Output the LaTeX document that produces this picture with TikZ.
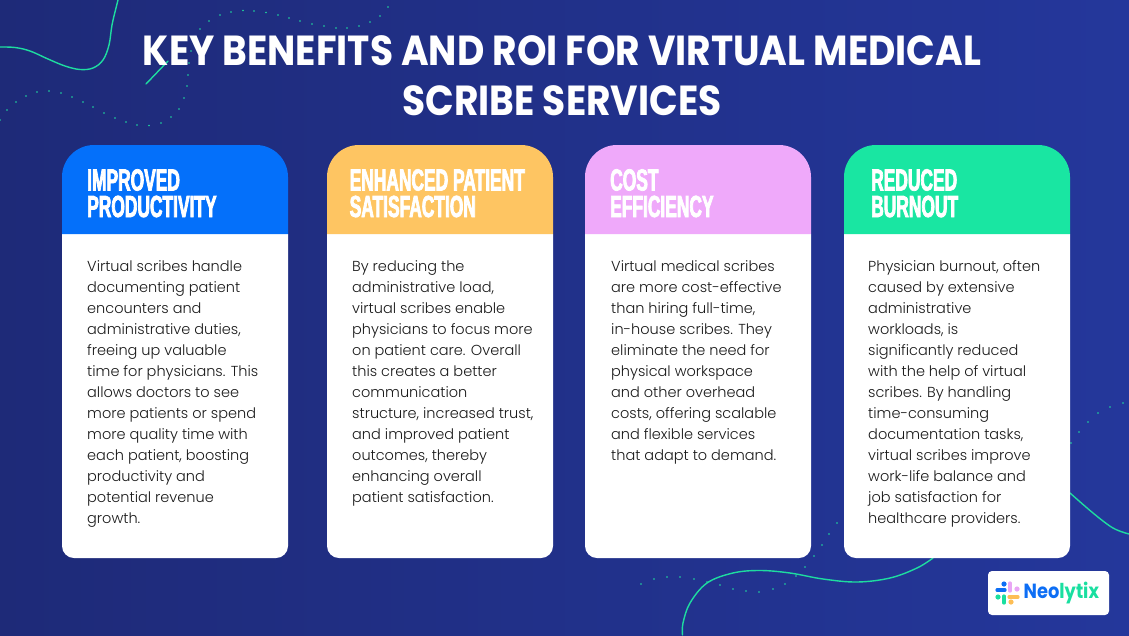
\documentclass[tikz,border=0pt]{standalone}
\usepackage{fontspec}
\setmainfont{Poppins}
\newfontfamily\titlefont{Poppins}[UprightFont=*-Bold,FakeStretch=0.895]
\newfontfamily\bodyfont{Poppins}[UprightFont=*-Light]
\newfontfamily\headfont{Liberation Sans}[UprightFont=* Bold,FakeStretch=0.57,FakeBold=2.4]
\newfontfamily\logofont{Poppins}[UprightFont=*-Bold,FakeStretch=0.87]
\definecolor{bgl}{HTML}{1E2A78}
\definecolor{bgr}{HTML}{24379B}
\definecolor{teal}{HTML}{1EDCA0}
\definecolor{hblue}{HTML}{0470FA}
\definecolor{horange}{HTML}{FEC562}
\definecolor{hpink}{HTML}{EFA9FA}
\definecolor{hgreen}{HTML}{19E6A2}
\definecolor{ink}{HTML}{1A1A1A}
\definecolor{lblue}{HTML}{0D6EF5}
\definecolor{lgreen}{HTML}{19DFA0}
\definecolor{lpink}{HTML}{E9A6F5}
\definecolor{lorange}{HTML}{FDBE55}
\tikzset{
  wave/.style={draw=teal,line width=1.4pt,line cap=round},
  dotmark/.style={fill=teal,draw=none},
  bodytext/.style={anchor=north west,inner sep=0pt,align=left,text=ink,font=\bodyfont\fontsize{14.5}{21}\selectfont},
  headtext/.style={anchor=north west,inner sep=0pt,align=left,text=white,font=\headfont\fontsize{30.5}{26.5}\selectfont},
  titletext/.style={anchor=center,inner sep=0pt,align=center,text=white,font=\titlefont\fontsize{42}{50}\selectfont},
  lbar/.style={line width=3.2pt,line cap=round},
}
\newcommand{\cardbox}[2]{%
  \fill[white] (#1,234) [rounded corners=12pt] -- (#1,558) -- (#1+226,558) [sharp corners] -- (#1+226,234) -- cycle;
  \fill[#2] (#1,234) [rounded corners=32pt] -- (#1,145) -- (#1+226,145) [sharp corners] -- (#1+226,234) -- cycle;
}
\begin{document}
\begin{tikzpicture}[x=1pt,y=-1pt]
\useasboundingbox (0,0) rectangle (1129,635);
\shade[left color=bgl,right color=bgr] (0,0) rectangle (1129,635);
% top-left curve
\draw[wave] plot[smooth,tension=0.6] coordinates {(0,47) (15,47.5) (30,51) (48,59) (65,66) (80,69.5) (93,68) (103,60) (109,45) (112,25) (116,8) (118,0)};
\draw[wave] (146,84) -- (168,61);
% bottom-right curve
\draw[wave] plot[smooth,tension=0.6] coordinates {(682.5,635) (683,623) (690,603) (707,583) (733,573) (760,570.5) (790,573) (823,579) (857,582) (890,578) (917,568) (933,558)};
\draw[wave] plot[smooth,tension=0.6] coordinates {(1070,493) (1093,513) (1113,528) (1129,534)};
% dotted paths
\foreach \p in {(0,120),(7,110),(16,102),(26,96),(37,92),(49,91),(61,93),(72,97),(83,102),(93,107),(104,113),(115,118),(126,122),(137,125),(149,125.5),(161,123),(171,117),(179,109),(184,98),(187,86),(188,75),(189,63),(191,51),(200,29),(209,21),(220,15),(231,12),(243,10.5),(254,11),(266,12.5),(278,15),(289,18),(300,21),(312,24),(324,26),(336,28),(347,28),(359,26),(370,22),(380,16),(388,7),
(641,584),(654,579),(667,577),(680,577),(694,579),(707,582),(720,585),(733,589),(746,591),(759,592),(773,589),(785,584),(796,576),(805,567),(814,556),(822,545),(829,534),(837,523),
(1071,443),(1079,432),(1088,422),(1098,413),(1110,407),(1123,403)}
  \fill[dotmark] \p circle[radius=0.8];
% cards
\cardbox{62}{hblue}
\cardbox{327}{horange}
\cardbox{585}{hpink}
\cardbox{844}{hgreen}
% title
\node[titletext] (title) at (562,76) {KEY BENEFITS AND ROI FOR VIRTUAL MEDICAL\\SCRIBE SERVICES};
% heads
\node[headtext] (h1) at (87,169) {IMPROVED\\PRODUCTIVITY};
\node[headtext] (h2) at (349.5,169) {ENHANCED PATIENT\\SATISFACTION};
\node[headtext] (h3) at (610,169) {COST\\EFFICIENCY};
\node[headtext] (h4) at (871,169) {REDUCED\\BURNOUT};
% bodies
\node[bodytext] (b1) at (87,260) {Virtual scribes handle\\documenting patient\\encounters and\\administrative duties,\\freeing up valuable\\time for physicians. This\\allows doctors to see\\more patients or spend\\more quality time with\\each patient, boosting\\productivity and\\potential revenue\\growth.};
\node[bodytext] (b2) at (352,260) {By reducing the\\administrative load,\\virtual scribes enable\\physicians to focus more\\on patient care. Overall\\this creates a better\\communication\\structure, increased trust,\\and improved patient\\outcomes, thereby\\enhancing overall\\patient satisfaction.};
\node[bodytext] (b3) at (611,260) {Virtual medical scribes\\are more cost-effective\\than hiring full-time,\\in-house scribes. They\\eliminate the need for\\physical workspace\\and other overhead\\costs, offering scalable\\and flexible services\\that adapt to demand.};
\node[bodytext] (b4) at (868,260) {Physician burnout, often\\caused by extensive\\administrative\\workloads, is\\significantly reduced\\with the help of virtual\\scribes. By handling\\time-consuming\\documentation tasks,\\virtual scribes improve\\work-life balance and\\job satisfaction for\\healthcare providers.};
% logo
\fill[white,rounded corners=4pt] (988,571) rectangle (1109,615);
\draw[lbar,lblue] (997,590) -- (1005,590);
\fill[lblue] (1004,584) circle[radius=2.6];
\draw[lbar,lpink] (1010,583) -- (1010,591);
\fill[lpink] (1017,589) circle[radius=2.6];
\draw[lbar,lgreen] (1004,596) -- (1004,603);
\fill[lgreen] (998,597) circle[radius=2.6];
\draw[lbar,lorange] (1009,597) -- (1018,597);
\fill[lorange] (1011,602) circle[radius=2.6];
\node[anchor=west,inner sep=0pt,font=\logofont\fontsize{20.5}{20.5}\selectfont] (logo) at (1023.5,593) {\textcolor{lblue}{Neo}\textcolor{lgreen}{lytix}};
\end{tikzpicture}
\end{document}
